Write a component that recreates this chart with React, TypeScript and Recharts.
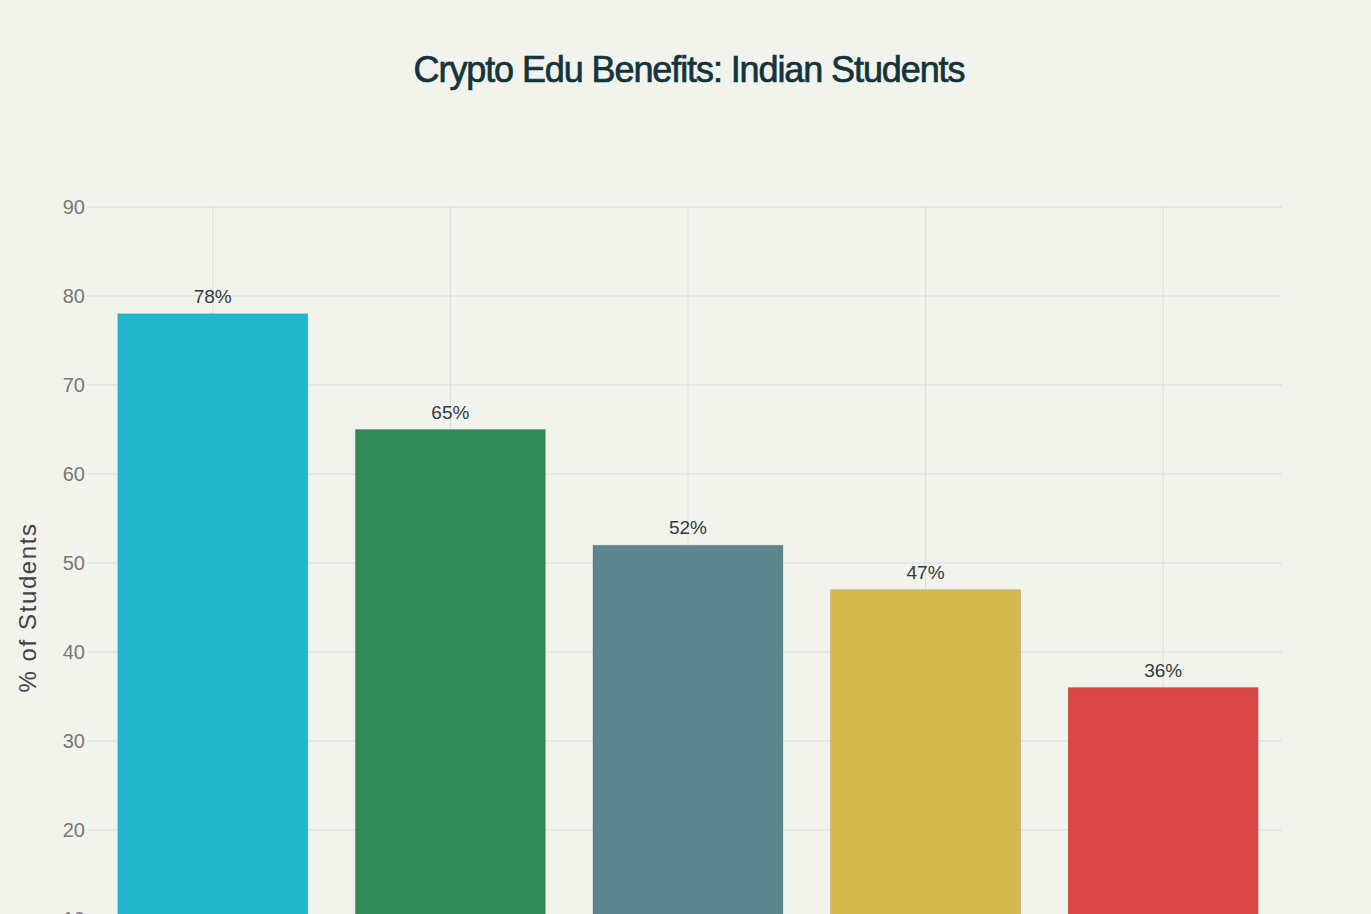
import { BarChart, Bar, XAxis, YAxis, CartesianGrid, Cell, LabelList } from 'recharts';

const categories = ['Financial Literacy', 'Career Opportunities', 'Tech Skills', 'Investment Know-how', 'Entrepreneurship'];
const shares = [78, 65, 52, 47, 36];
const barColors = ['#1FB8CD', '#2E8B57', '#5D878F', '#D2BA4C', '#DB4545'];
const yTicks = [0, 10, 20, 30, 40, 50, 60, 70, 80, 90];

const data = categories.map((name, i) => ({ name, value: shares[i] }));

const font = '"Liberation Sans", Arial, sans-serif';

export default function App() {
   return (
      <div style={{ position: 'absolute', top: 0, left: 0, width: 1371, height: 1100, background: '#F3F3EE', fontFamily: font }}>
         <div
            style={{
               position: 'absolute',
               top: 49,
               left: 0,
               width: 1378,
               textAlign: 'center',
               fontSize: 36,
               fontWeight: 400,
               color: '#13343B',
               letterSpacing: -1.1,
               WebkitTextStroke: '0.7px #13343B'
            }}
         >
            Crypto Edu Benefits: Indian Students
         </div>
         <BarChart
            width={1371}
            height={1100}
            data={data}
            margin={{ top: 207, right: 89, left: 0, bottom: 52 }}
            barCategoryGap='10%'
         >
            <CartesianGrid stroke='#DCDCD8' strokeWidth={1} syncWithTicks />
            <XAxis
               dataKey='name'
               axisLine={false}
               tickLine={false}
               height={40}
               tick={{ fill: '#666', fontSize: 17, fontFamily: font }}
            />
            <YAxis
               domain={[0, 90]}
               ticks={yTicks}
               width={94}
               axisLine={false}
               tickLine={{ stroke: '#DCDCD8' }}
               tickSize={7}
               tick={{ fill: '#777', fontSize: 20, fontFamily: font }}
               label={{
                  value: '% of Students',
                  angle: -90,
                  position: 'insideLeft',
                  dx: 22,
                  style: { fill: '#444', fontSize: 24, fontFamily: font, textAnchor: 'middle', letterSpacing: 1.6 }
               }}
            />
            <Bar dataKey='value' isAnimationActive={false}>
               {data.map((d, i) => (
                  <Cell key={d.name} fill={barColors[i]} stroke='rgba(0,0,0,0.12)' strokeWidth={1} />
               ))}
               <LabelList
                  dataKey='value'
                  position='top'
                  offset={11}
                  formatter={(v: number) => `${v}%`}
                  style={{ fill: '#2F3B3D', fontSize: 19, fontFamily: font }}
               />
            </Bar>
         </BarChart>
      </div>
   );
}
